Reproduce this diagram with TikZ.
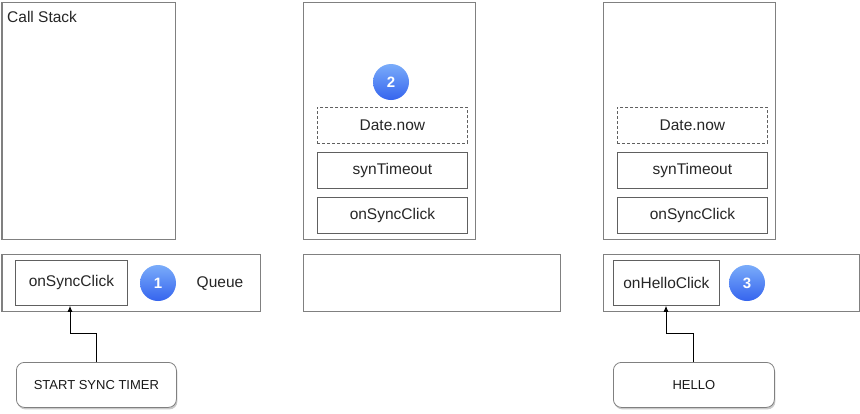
\documentclass[tikz,border=0pt]{standalone}
\usepackage{fontspec}
\setmainfont{Liberation Sans}
\usetikzlibrary{arrows.meta,shadows}
\definecolor{boxgray}{HTML}{808080}
\definecolor{innergray}{HTML}{606060}
\definecolor{ballTop}{HTML}{7AACFA}
\definecolor{ballBot}{HTML}{3564EE}
\begin{document}
\begin{tikzpicture}[x=1pt,y=-1pt,
  panel/.style={draw=boxgray,line width=1.2pt,fill=white,anchor=north west,inner sep=0pt},
  frame/.style={draw=innergray,line width=0.8pt,fill=white,anchor=north west,inner sep=0pt,font=\fontsize{15.5}{18}\selectfont,text=black!85},
  dframe/.style={frame,dashed,dash pattern=on 3pt off 2pt},
  ball/.style={circle,minimum size=36pt,inner sep=0pt,top color=ballTop,bottom color=ballBot,draw=none,text=white,font=\bfseries\fontsize{15}{18}\selectfont},
  button/.style={draw=boxgray,line width=0.8pt,fill=white,rounded corners=8pt,anchor=north west,inner sep=0pt,font=\fontsize{13}{15}\selectfont,text=black!90,
    drop shadow={shadow xshift=1pt,shadow yshift=-2pt,opacity=0.35,fill=black!60}},
  lbl/.style={font=\fontsize{15.5}{18}\selectfont,text=black!85,inner sep=0pt},
  arr/.style={-{Latex[length=6pt,width=5pt]},line width=0.8pt,black}
]
\useasboundingbox (0,0) rectangle (860,413);
% panel 1
\node[panel,minimum width=173pt,minimum height=237pt] (s1) at (1.5,1.5) {};
\node[lbl,anchor=base west] (cs) at (7,22) {Call Stack};
\node[panel,minimum width=258pt,minimum height=57pt] (q1) at (1.5,254) {};
\node[frame,minimum width=112pt,minimum height=45pt] (f1) at (15,260) {onSyncClick};
\node[ball] (b1) at (158,283) {1};
\node[lbl] (ql) at (220,284) {Queue};
\node[button,minimum width=160pt,minimum height=45pt] (t1) at (16,362) {START SYNC TIMER};
\draw[arr] (t1.north -| 96,0) |- (70,333) -- (f1.south -| 70,0);
% panel 2
\node[panel,minimum width=172pt,minimum height=237pt] (s2) at (303,1.5) {};
\node[ball] (b2) at (391,82) {2};
\node[dframe,minimum width=150pt,minimum height=36pt] (d2) at (317,107) {Date.now};
\node[frame,minimum width=150pt,minimum height=36pt] (y2) at (317,152) {synTimeout};
\node[frame,minimum width=150pt,minimum height=36pt] (o2) at (317,197) {onSyncClick};
\node[panel,minimum width=257pt,minimum height=57pt] (q2) at (303,254) {};
% panel 3
\node[panel,minimum width=172pt,minimum height=237pt] (s3) at (603,1.5) {};
\node[dframe,minimum width=150pt,minimum height=36pt] (d3) at (617,107) {Date.now};
\node[frame,minimum width=150pt,minimum height=36pt] (y3) at (617,152) {synTimeout};
\node[frame,minimum width=150pt,minimum height=36pt] (o3) at (617,197) {onSyncClick};
\node[panel,minimum width=256pt,minimum height=57pt] (q3) at (603,254) {};
\node[frame,minimum width=106pt,minimum height=45pt] (f3) at (613,260) {onHelloClick};
\node[ball] (b3) at (747,283) {3};
\node[button,minimum width=161pt,minimum height=45pt] (t3) at (613,362) {HELLO};
\draw[arr] (t3.north -| 693,0) |- (666,333) -- (f3.south -| 666,0);
\end{tikzpicture}
\end{document}
